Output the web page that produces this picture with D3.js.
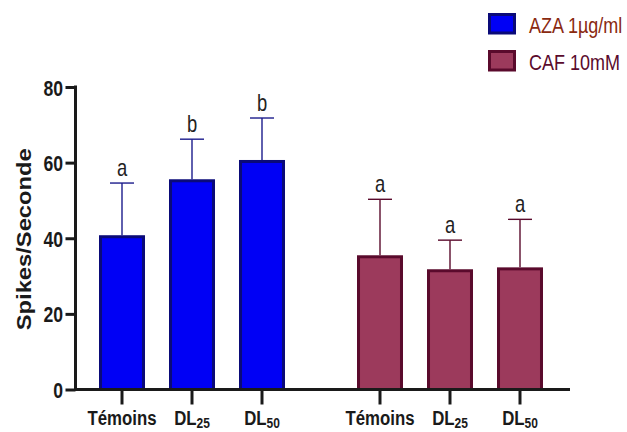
<!DOCTYPE html>
<html>
<head>
<meta charset="utf-8">
<script src="https://cdn.jsdelivr.net/npm/d3@7"></script>
<style>
  html, body { margin: 0; padding: 0; background: #fff; }
  svg { display: block; }
</style>
</head>
<body>
<svg id="chart" width="627" height="432"></svg>
<script>
// Spike rates per treatment group (mean ± SD) with significance letters
const groups = ["AZA 1µg/ml", "CAF 10mM"];
const doses = ["Témoins", "DL25", "DL50"];
const azaMeans = [40.8, 55.6, 60.7];
const azaSD = [13.8, 10.6, 11.1];
const cafMeans = [35.5, 31.8, 32.3];
const cafSD = [14.8, 7.7, 12.7];
const azaLetters = ["a", "b", "b"];
const cafLetters = ["a", "a", "a"];
const yTicks = [0, 20, 40, 60, 80];

const palette = {
  "AZA 1µg/ml": { fill: "#0000f5", stroke: "#0a0a78", err: "#1c1c8c", text: "#8a2a10" },
  "CAF 10mM": { fill: "#9c3a5c", stroke: "#5a0a2c", err: "#5a0a2c", text: "#5a0a2c" }
};

const rows = [];
groups.forEach((g, gi) => {
  const means = gi === 0 ? azaMeans : cafMeans;
  const sds = gi === 0 ? azaSD : cafSD;
  const letters = gi === 0 ? azaLetters : cafLetters;
  doses.forEach((d, di) => rows.push({ group: g, dose: d, mean: means[di], sd: sds[di], letter: letters[di] }));
});

const svg = d3.select("#chart");
const font = "'Liberation Sans', Arial, Helvetica, sans-serif";
const narrow = 0.8; // horizontal squeeze giving a condensed face

const y = d3.scaleLinear().domain([0, 80]).range([389.5, 87]);
const x0 = d3.scaleBand().domain(groups).range([87, 555]).paddingInner(48 / 258).paddingOuter(0);
const x1 = d3.scaleBand().domain(doses).range([0, x0.bandwidth()]).paddingInner(0.343).paddingOuter(0.1715);

const xPos = d => x0(d.group) + x1(d.dose);
const xMid = d => xPos(d) + x1.bandwidth() / 2;

// error bars (drawn first so the bar outline covers the stem base)
const err = svg.append("g");
err.selectAll("line.stem").data(rows).join("line")
  .attr("x1", xMid).attr("x2", xMid)
  .attr("y1", d => y(d.mean))
  .attr("y2", d => y(d.mean + d.sd))
  .attr("stroke", d => palette[d.group].err)
  .attr("stroke-width", 1.4);
err.selectAll("line.cap").data(rows).join("line")
  .attr("x1", d => xMid(d) - 12)
  .attr("x2", d => xMid(d) + 12)
  .attr("y1", d => y(d.mean + d.sd))
  .attr("y2", d => y(d.mean + d.sd))
  .attr("stroke", d => palette[d.group].err)
  .attr("stroke-width", 1.4);

// bars
svg.append("g").selectAll("rect").data(rows).join("rect")
  .attr("x", d => xPos(d) + 1.5)
  .attr("y", d => y(d.mean) + 1.5)
  .attr("width", x1.bandwidth() - 3)
  .attr("height", d => y(0) - y(d.mean) - 1.5)
  .attr("fill", d => palette[d.group].fill)
  .attr("stroke", d => palette[d.group].stroke)
  .attr("stroke-width", 3);

// significance letters
svg.append("g").selectAll("text").data(rows).join("text")
  .attr("transform", d => `translate(${xMid(d)},${y(d.mean + d.sd) - 7}) scale(${narrow},1)`)
  .attr("text-anchor", "middle")
  .attr("font-family", font)
  .attr("font-size", 23)
  .attr("fill", "#222")
  .text(d => d.letter);

// y axis
const yAxis = svg.append("g").attr("transform", "translate(75.5,0)")
  .call(d3.axisLeft(y).tickValues(yTicks).tickSize(10));
yAxis.select(".domain").attr("stroke", "#1a1a1a").attr("stroke-width", 3).attr("d", `M0,${y(80) - 1.5}V${y(0)}`);
yAxis.selectAll(".tick line").attr("stroke", "#1a1a1a").attr("stroke-width", 3);
yAxis.selectAll(".tick text")
  .attr("x", null).attr("dy", null)
  .attr("transform", `translate(-12.5,8) scale(${narrow},1)`)
  .attr("font-family", font).attr("font-size", 22).attr("font-weight", "bold").attr("fill", "#1a1a1a");

// x axis
const xAxis = svg.append("g");
xAxis.append("line")
  .attr("x1", 74).attr("x2", 570).attr("y1", y(0)).attr("y2", y(0))
  .attr("stroke", "#1a1a1a").attr("stroke-width", 3);
xAxis.selectAll("line.tick").data(rows).join("line")
  .attr("class", "tick")
  .attr("x1", xMid).attr("x2", xMid)
  .attr("y1", y(0)).attr("y2", y(0) + 15)
  .attr("stroke", "#1a1a1a").attr("stroke-width", 3);
const labels = xAxis.selectAll("text").data(rows).join("text")
  .attr("transform", d => `translate(${xMid(d)},425) scale(${narrow},1)`)
  .attr("text-anchor", "middle")
  .attr("font-family", font).attr("font-size", 21).attr("font-weight", "bold").attr("fill", "#1a1a1a");
labels.each(function (d) {
  const t = d3.select(this);
  const m = d.dose.match(/^DL(\d+)$/);
  if (m) {
    t.append("tspan").text("DL");
    t.append("tspan").attr("font-size", 15).attr("dy", 3).text(m[1]);
  } else {
    t.text(d.dose);
  }
});

// y axis title
svg.append("text")
  .attr("transform", `translate(31,${(y(0) + y(80)) / 2 + 1}) rotate(-90)`)
  .attr("text-anchor", "middle")
  .attr("font-family", font)
  .attr("font-size", 20).attr("font-weight", "bold").attr("fill", "#1a1a1a")
  .attr("textLength", 182).attr("lengthAdjust", "spacingAndGlyphs")
  .text("Spikes/Seconde");

// legend
const legend = svg.append("g").selectAll("g").data(groups).join("g")
  .attr("transform", (d, i) => `translate(488,${13 + i * 37})`);
legend.append("rect")
  .attr("x", 1.5).attr("y", 1.5).attr("width", 25).attr("height", 18.5)
  .attr("fill", d => palette[d].fill)
  .attr("stroke", d => palette[d].stroke).attr("stroke-width", 3);
legend.append("text")
  .attr("transform", `translate(41,20) scale(${narrow},1)`)
  .attr("font-family", font).attr("font-size", 22.5)
  .attr("fill", d => palette[d].text)
  .text(d => d);
</script>
</body>
</html>
